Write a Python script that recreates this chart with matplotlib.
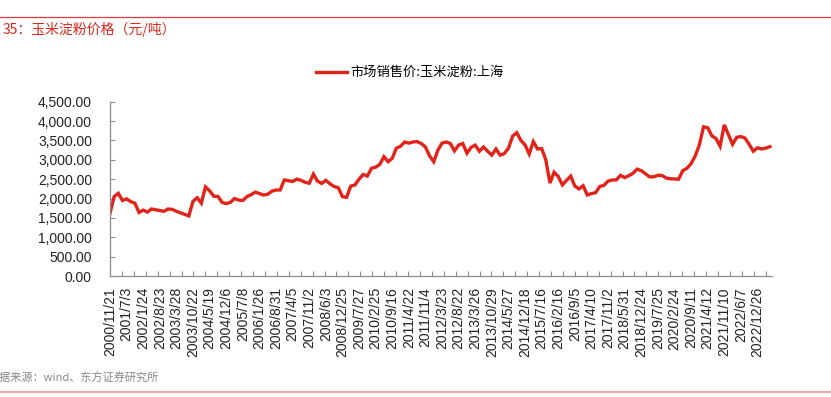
import numpy as np
import matplotlib
matplotlib.use('Agg')
import matplotlib.pyplot as plt
from matplotlib.ticker import FuncFormatter, FixedLocator

plt.rcParams['font.family'] = ['Liberation Sans', 'Noto Sans CJK SC', 'DejaVu Sans']

# tick labels on the category axis (every 4th point)
dates = ['2000/11/21', '2001/7/3', '2002/1/24', '2002/8/23', '2003/3/28', '2003/10/22',
         '2004/5/19', '2004/12/6', '2005/7/8', '2006/1/26', '2006/8/31', '2007/4/5',
         '2007/11/2', '2008/6/3', '2008/12/25', '2009/7/27', '2010/2/25', '2010/9/16',
         '2011/4/22', '2011/11/4', '2012/3/23', '2012/8/22', '2013/3/26', '2013/10/29',
         '2014/5/27', '2014/12/18', '2015/7/16', '2016/2/16', '2016/9/5', '2017/4/10',
         '2017/11/2', '2018/5/31', '2018/12/24', '2019/7/25', '2020/2/24', '2020/9/11',
         '2021/4/12', '2021/11/10', '2022/6/7', '2022/12/26']

# 市场销售价:玉米淀粉:上海 (元/吨)
price_2000_2005 = [1620, 2050, 2135, 1950, 1990, 1920, 1880, 1640, 1700, 1650,
                   1730, 1710, 1690, 1670, 1730, 1720, 1670, 1630, 1590, 1550,
                   1930, 2020, 1880, 2300, 2200, 2060, 2055, 1900, 1870, 1900]
price_2005_2011 = [2000, 1960, 1950, 2050, 2100, 2165, 2130, 2090, 2110, 2190,
                   2220, 2220, 2480, 2460, 2440, 2500, 2470, 2420, 2395, 2630,
                   2450, 2390, 2470, 2380, 2310, 2280, 2050, 2030, 2320, 2350,
                   2500, 2620, 2580, 2780, 2810, 2880, 3080, 2950, 3040, 3300]
price_2011_2016 = [3350, 3460, 3430, 3460, 3470, 3420, 3330, 3100, 2950, 3250,
                   3430, 3460, 3420, 3230, 3380, 3420, 3170, 3320, 3380, 3220,
                   3330, 3220, 3120, 3280, 3120, 3160, 3300, 3610, 3700, 3500,
                   3385, 3150, 3470, 3280, 3290, 3000, 2400, 2680, 2570, 2350]
price_2016_2023 = [2470, 2580, 2320, 2250, 2330, 2090, 2130, 2150, 2310, 2340,
                   2450, 2480, 2480, 2600, 2540, 2590, 2650, 2760, 2720, 2640,
                   2560, 2560, 2600, 2595, 2530, 2510, 2505, 2500, 2720, 2780,
                   2900, 3100, 3385, 3850, 3830, 3620, 3550, 3350, 3900, 3650,
                   3400, 3580, 3600, 3560, 3400, 3220, 3310, 3280, 3300, 3340]

price = np.array(price_2000_2005 + price_2005_2011 + price_2011_2016 + price_2016_2023)
x = np.arange(len(price))

red = '#e2231a'
gray = '#8c8c8c'

fig = plt.figure(figsize=(8.31, 3.97), dpi=100)
ax = fig.add_axes([110 / 831, 1 - 276 / 397, 662 / 831, (276 - 101.7) / 397])

ax.plot(x, price, color=red, linewidth=2.4, solid_joinstyle='miter',
        label='市场销售价:玉米淀粉:上海')

ax.set_xlim(0, len(price) - 0.5)
ax.set_ylim(0, 4500)
ax.set_yticks(np.arange(0, 4501, 500))
ax.yaxis.set_major_formatter(FuncFormatter(lambda v, p: '{:,.2f}'.format(v)))

ax.set_xticks(np.arange(0, len(dates) * 4, 4))
ax.set_xticklabels(dates, rotation=90)
ax.xaxis.set_minor_locator(FixedLocator(np.arange(0, len(price), 2.872)))

for side in ['top', 'right']:
    ax.spines[side].set_visible(False)
for side in ['left', 'bottom']:
    ax.spines[side].set_color(gray)
    ax.spines[side].set_linewidth(0.9)

ax.tick_params(axis='x', which='major', length=0, pad=8, labelsize=10, labelcolor='#222222')
ax.tick_params(axis='x', which='minor', direction='in', length=3.5, color=gray, width=0.8)
ax.tick_params(axis='y', direction='in', length=3.5, color=gray, width=0.8,
               pad=13, labelsize=10, labelcolor='#222222')

fig.legend(loc='center', bbox_to_anchor=(0.493, 1 - 72.7 / 397), frameon=False,
           handlelength=2.4, handletextpad=0.25,
           prop={'family': ['Noto Sans CJK SC'], 'size': 9.5})

# header / footer
fig.add_artist(plt.Line2D([0, 1], [1 - 17.3 / 397] * 2, color='#e03c3c', linewidth=0.9))
fig.text(3 / 831, 1 - 29.5 / 397, '35：玉米淀粉价格（元/吨）', color='#d9261c', fontsize=10,
         family=['Noto Sans CJK SC'], va='center', ha='left')
fig.text(-11 / 831, 1 - 378 / 397, '数据来源：wind、东方证券研究所', color='#888888', fontsize=8,
         family=['Noto Sans CJK SC', 'DejaVu Sans'], va='center', ha='left')
fig.add_artist(plt.Line2D([0, 1], [1 - 391.7 / 397] * 2, color='#f6a4a0', linewidth=1.5))

fig.savefig('out.png', dpi=100)
